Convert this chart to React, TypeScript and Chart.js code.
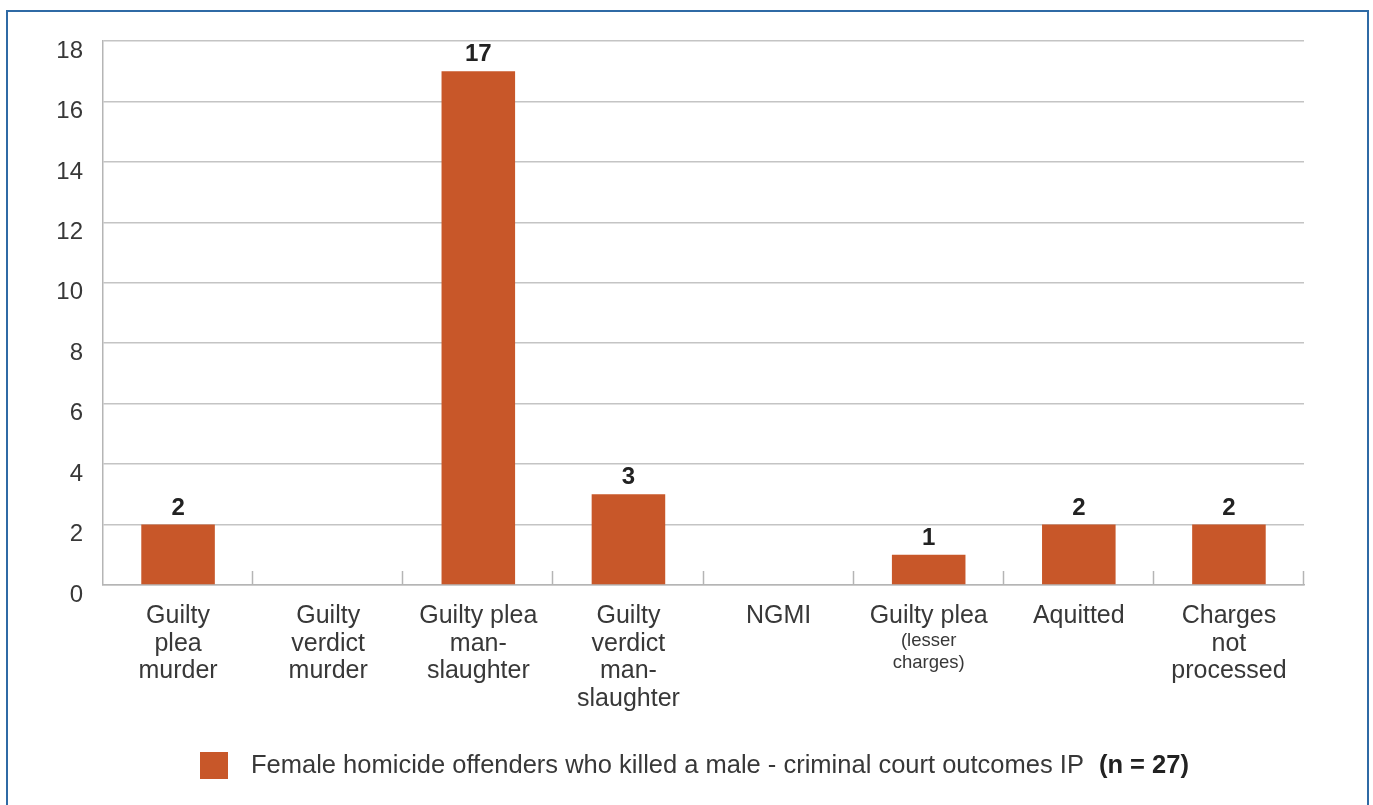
import React, { useEffect, useRef } from "react";
import { Chart, registerables } from "chart.js";

Chart.register(...registerables);

// ---- data ----
const categoryLines: string[][] = [
  ["Guilty", "plea", "murder"],
  ["Guilty", "verdict", "murder"],
  ["Guilty plea", "man-", "slaughter"],
  ["Guilty", "verdict", "man-", "slaughter"],
  ["NGMI"],
  ["Guilty plea"],
  ["Aquitted"],
  ["Charges", "not", "processed"],
];
const categorySubLines: string[][] = [[], [], [], [], [], ["(lesser", "charges)"], [], []];
const values: number[] = [2, 0, 17, 3, 0, 1, 2, 2];
const yMin = 0;
const yMax = 18;
const yStep = 2;
const seriesName = "Female homicide offenders who killed a male - criminal court outcomes IP";
const seriesNote = "(n = 27)";

const FONT = "'Liberation Sans', Arial, Helvetica, sans-serif";
const BAR_COLOR = "#C85729";
const TEXT_COLOR = "#383838";
const GRID_COLOR = "#c4c4c4";

const overlayPlugin = {
  id: "overlay",
  afterDatasetsDraw(chart: any) {
    const { ctx, chartArea, scales } = chart;
    const x = scales.x;
    ctx.save();
    const step = x.getPixelForValue(1) - x.getPixelForValue(0);

    // category separator ticks (pointing up into plot)
    ctx.strokeStyle = "#b5b5b5";
    ctx.lineWidth = 1.5;
    for (let i = 0; i < values.length; i++) {
      const xb = Math.round(x.getPixelForValue(i) + step / 2) - 0.5;
      ctx.beginPath();
      ctx.moveTo(xb, chartArea.bottom);
      ctx.lineTo(xb, chartArea.bottom - 14);
      ctx.stroke();
    }

    // value labels
    const meta = chart.getDatasetMeta(0);
    ctx.fillStyle = "#222222";
    ctx.font = `bold 24px ${FONT}`;
    ctx.textAlign = "center";
    ctx.textBaseline = "alphabetic";
    meta.data.forEach((bar: any, i: number) => {
      if (values[i] > 0) ctx.fillText(String(values[i]), bar.x, bar.y - 10);
    });

    // category labels
    ctx.fillStyle = TEXT_COLOR;
    categoryLines.forEach((lines, i) => {
      const cx = x.getPixelForValue(i);
      let yb = chartArea.bottom + 38;
      ctx.font = `25px ${FONT}`;
      lines.forEach((t) => {
        ctx.fillText(t, cx, yb);
        yb += 27.5;
      });
      const subs = categorySubLines[i];
      if (subs.length) {
        ctx.font = `18.5px ${FONT}`;
        let ys = chartArea.bottom + 61;
        subs.forEach((t) => {
          ctx.fillText(t, cx, ys);
          ys += 22;
        });
      }
    });

    // legend
    ctx.fillStyle = BAR_COLOR;
    ctx.fillRect(200, 752, 28, 27);
    ctx.textAlign = "left";
    ctx.textBaseline = "middle";
    ctx.fillStyle = TEXT_COLOR;
    ctx.font = `25.5px ${FONT}`;
    ctx.fillText(seriesName, 251, 766);
    const w = ctx.measureText(seriesName).width;
    ctx.font = `bold 25.5px ${FONT}`;
    ctx.fillStyle = "#222222";
    ctx.fillText(seriesNote, 251 + w + 15, 766);
    ctx.restore();
  },
};

export default function App() {
  const ref = useRef<HTMLCanvasElement | null>(null);
  useEffect(() => {
    if (!ref.current) return;
    const chart = new Chart(ref.current, {
      type: "bar",
      data: {
        labels: categoryLines.map((l) => l.join(" ")),
        datasets: [
          {
            label: seriesName,
            data: values,
            backgroundColor: BAR_COLOR,
            borderWidth: 0,
            barPercentage: 0.49,
            categoryPercentage: 1,
          },
        ],
      },
      options: {
        responsive: false,
        animation: false,
        layout: { padding: { left: 0, top: 41, right: 69, bottom: 0 } },
        plugins: { legend: { display: false }, tooltip: { enabled: false } },
        scales: {
          x: {
            ticks: { display: false },
            grid: { display: false },
            border: { display: true, color: "#b5b5b5", width: 1.5 },
            afterFit(s: any) {
              s.height = 220;
            },
          },
          y: {
            min: yMin,
            max: yMax,
            ticks: {
              stepSize: yStep,
              padding: 20,
              labelOffset: 10,
              color: TEXT_COLOR,
              font: { family: FONT, size: 24 },
            },
            grid: { color: GRID_COLOR, lineWidth: 1.5, drawTicks: false },
            border: { display: true, color: "#b5b5b5", width: 1.5 },
            afterFit(s: any) {
              s.width = 103;
            },
          },
        },
      },
      plugins: [overlayPlugin],
    });
    return () => chart.destroy();
  }, []);

  return (
    <div
      style={{
        position: "absolute",
        left: 0,
        top: 0,
        width: 1373,
        height: 805,
        overflow: "hidden",
        background: "#ffffff",
      }}
    >
      <div
        style={{
          position: "absolute",
          left: 6,
          top: 10,
          width: 1363,
          height: 795,
          boxSizing: "border-box",
          borderTop: "2px solid #2f6aa5",
          borderLeft: "2px solid #2f6aa5",
          borderRight: "2px solid #2f6aa5",
          borderBottom: "none",
        }}
      />
      <canvas
        ref={ref}
        width={1373}
        height={805}
        style={{ position: "absolute", left: 0, top: 0, width: 1373, height: 805 }}
      />
    </div>
  );
}
